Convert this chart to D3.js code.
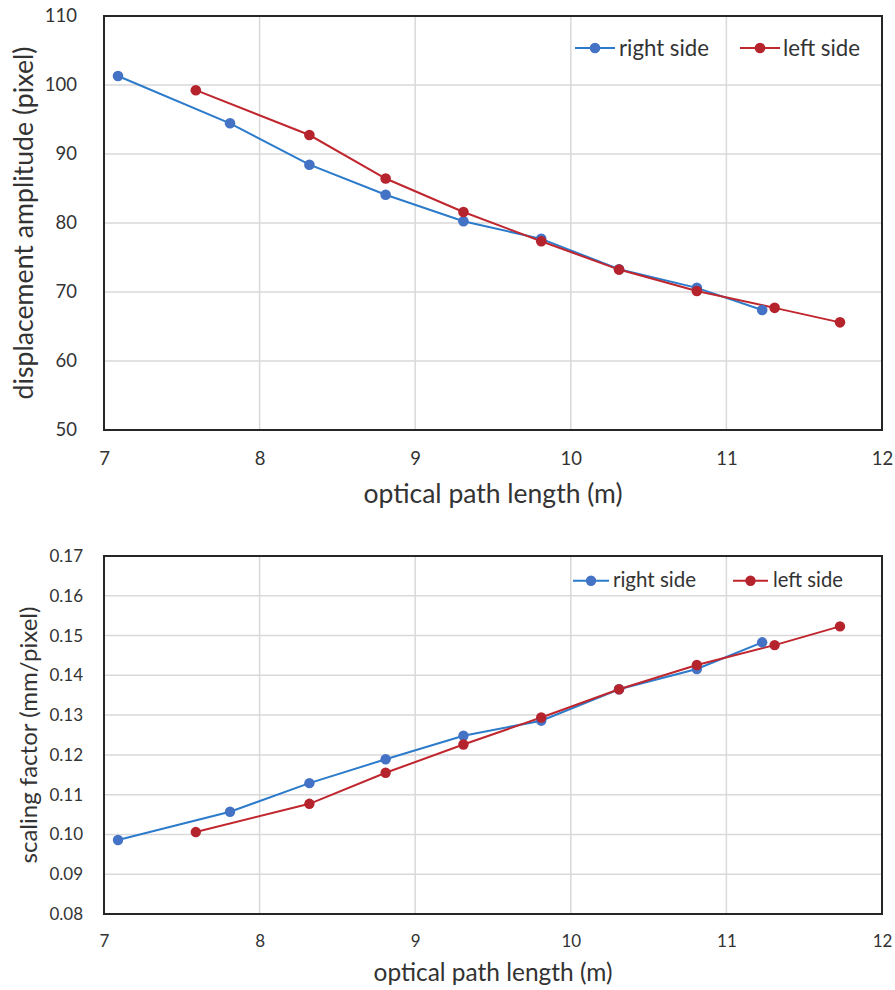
<!DOCTYPE html>
<html>
<head>
<meta charset="utf-8">
<script src="https://cdn.jsdelivr.net/npm/d3@7"></script>
<style>
  html, body { margin: 0; padding: 0; background: #fff; }
  svg { display: block; font-family: Lato, "Open Sans", sans-serif; }
</style>
</head>
<body>
<svg id="chart" width="895" height="990"></svg>
<script>
// Optical path length (m) of each measurement, per camera side
const pathRight = [7.09, 7.81, 8.32, 8.81, 9.31, 9.81, 10.31, 10.81, 11.23];
const pathLeft  = [7.59, 8.32, 8.81, 9.31, 9.81, 10.31, 10.81, 11.31, 11.73];

// Displacement amplitude (pixel)
const ampRight = [101.3, 94.45, 88.45, 84.1, 80.25, 77.7, 73.3, 70.6, 67.4];
const ampLeft  = [99.25, 92.75, 86.45, 81.6, 77.35, 73.25, 70.15, 67.7, 65.6];

// Scaling factor (mm/pixel)
const scaleRight = [0.0986, 0.1057, 0.1129, 0.1189, 0.1248, 0.1286, 0.1365, 0.1416, 0.1483];
const scaleLeft  = [0.1006, 0.1077, 0.1155, 0.1226, 0.1294, 0.1365, 0.1426, 0.1476, 0.1523];

// Tick values
const xTicks = [7, 8, 9, 10, 11, 12];
const ampTicks = [50, 60, 70, 80, 90, 100, 110];
const scaleTicks = [0.08, 0.09, 0.10, 0.11, 0.12, 0.13, 0.14, 0.15, 0.16, 0.17];

const seriesNames = ["right side", "left side"];

const COLORS = {
  right: { line: "#2C7BCB", marker: "#4472C4" },
  left:  { line: "#C0262E", marker: "#B5232D" }
};
const TEXT = "#333333";

const svg = d3.select("#chart");

// Scale a text element's font size so its rendered width equals target
function fitWidth(sel, target) {
  const node = sel.node();
  const fs = parseFloat(sel.attr("font-size"));
  const w = node.getComputedTextLength();
  if (w > 0) sel.attr("font-size", (fs * target / w).toFixed(2));
}

function drawPanel(cfg) {
  const g = svg.append("g");
  const x = d3.scaleLinear().domain([7, 12]).range([cfg.left, cfg.right]);
  const y = d3.scaleLinear().domain(cfg.yDomain).range([cfg.bottom, cfg.top]);

  // grid
  g.append("g").selectAll("line.h").data(cfg.yTicks).join("line")
    .attr("x1", cfg.left).attr("x2", cfg.right)
    .attr("y1", d => y(d)).attr("y2", d => y(d))
    .attr("stroke", "#d9d9d9").attr("stroke-width", 1.5);
  g.append("g").selectAll("line.v").data(xTicks).join("line")
    .attr("y1", cfg.top).attr("y2", cfg.bottom)
    .attr("x1", d => x(d)).attr("x2", d => x(d))
    .attr("stroke", "#d9d9d9").attr("stroke-width", 1.5);

  // axes (labels only)
  const xa = g.append("g").attr("transform", `translate(0,${cfg.bottom})`)
    .call(d3.axisBottom(x).tickValues(xTicks).tickFormat(d3.format("d"))
      .tickSize(0).tickPadding(cfg.xPad));
  xa.select(".domain").remove();
  xa.selectAll("text").attr("font-size", cfg.tickFont).attr("fill", TEXT)
    .attr("font-family", "Lato, 'Open Sans', sans-serif");

  const ya = g.append("g").attr("transform", `translate(${cfg.left},0)`)
    .call(d3.axisLeft(y).tickValues(cfg.yTicks).tickFormat(d3.format(cfg.yFormat))
      .tickSize(0).tickPadding(cfg.yPad));
  ya.select(".domain").remove();
  ya.selectAll("text").attr("font-size", cfg.tickFont).attr("fill", TEXT)
    .attr("font-family", "Lato, 'Open Sans', sans-serif");

  // frame
  g.append("rect")
    .attr("x", cfg.left).attr("y", cfg.top)
    .attr("width", cfg.right - cfg.left).attr("height", cfg.bottom - cfg.top)
    .attr("fill", "none").attr("stroke", "#262626").attr("stroke-width", 2);

  // series
  const series = [
    { xs: pathRight, ys: cfg.right_, c: COLORS.right },
    { xs: pathLeft,  ys: cfg.left_,  c: COLORS.left }
  ];
  const line = d3.line().x(d => x(d[0])).y(d => y(d[1]));
  series.forEach(s => {
    const pts = s.xs.map((v, i) => [v, s.ys[i]]);
    g.append("path").datum(pts).attr("d", line)
      .attr("fill", "none").attr("stroke", s.c.line).attr("stroke-width", 2);
  });
  series.forEach(s => {
    const pts = s.xs.map((v, i) => [v, s.ys[i]]);
    g.append("g").selectAll("circle").data(pts).join("circle")
      .attr("cx", d => x(d[0])).attr("cy", d => y(d[1])).attr("r", cfg.r)
      .attr("fill", s.c.marker);
  });

  // axis titles
  const xt = g.append("text")
    .attr("x", (cfg.left + cfg.right) / 2).attr("y", cfg.xTitleY)
    .attr("text-anchor", "middle").attr("fill", TEXT)
    .attr("font-size", 20).text(cfg.xTitle);
  fitWidth(xt, cfg.xTitleW);

  const yt = g.append("text")
    .attr("transform", `translate(${cfg.yTitleX},${(cfg.top + cfg.bottom) / 2}) rotate(-90)`)
    .attr("text-anchor", "middle").attr("fill", TEXT)
    .attr("font-size", 20).text(cfg.yTitle);
  fitWidth(yt, cfg.yTitleW);

  // legend
  const lg = g.append("g");
  [COLORS.right, COLORS.left].forEach((c, i) => {
    const L = cfg.legend[i];
    lg.append("line").attr("x1", L.x0).attr("x2", L.x1)
      .attr("y1", cfg.legendY).attr("y2", cfg.legendY)
      .attr("stroke", c.line).attr("stroke-width", 2);
    lg.append("circle").attr("cx", (L.x0 + L.x1) / 2).attr("cy", cfg.legendY)
      .attr("r", cfg.r).attr("fill", c.marker);
    const t = lg.append("text").attr("x", L.tx).attr("y", cfg.legendBase)
      .attr("fill", TEXT).attr("font-size", 20).text(seriesNames[i]);
    fitWidth(t, L.tw);
  });
}

drawPanel({
  left: 104, right: 882, top: 16, bottom: 430,
  yDomain: [50, 110], yTicks: ampTicks, yFormat: "d",
  right_: ampRight, left_: ampLeft,
  tickFont: 18.5, xPad: 22, yPad: 27, r: 5.3,
  xTitle: "optical path length (m)", xTitleY: 503, xTitleW: 259,
  yTitle: "displacement amplitude (pixel)", yTitleX: 33, yTitleW: 353,
  legendY: 48, legendBase: 56,
  legend: [{ x0: 575, x1: 615, tx: 619, tw: 90 }, { x0: 740, x1: 780, tx: 783, tw: 77 }]
});

drawPanel({
  left: 104, right: 882, top: 556, bottom: 914,
  yDomain: [0.08, 0.17], yTicks: scaleTicks, yFormat: ".2f",
  right_: scaleRight, left_: scaleLeft,
  tickFont: 17, xPad: 21, yPad: 21, r: 5.2,
  xTitle: "optical path length (m)", xTitleY: 981, xTitleW: 239,
  yTitle: "scaling factor (mm/pixel)", yTitleX: 37, yTitleW: 257,
  legendY: 580.7, legendBase: 587,
  legend: [{ x0: 573, x1: 609, tx: 613, tw: 83 }, { x0: 733, x1: 768, tx: 773, tw: 70 }]
});
</script>
</body>
</html>
